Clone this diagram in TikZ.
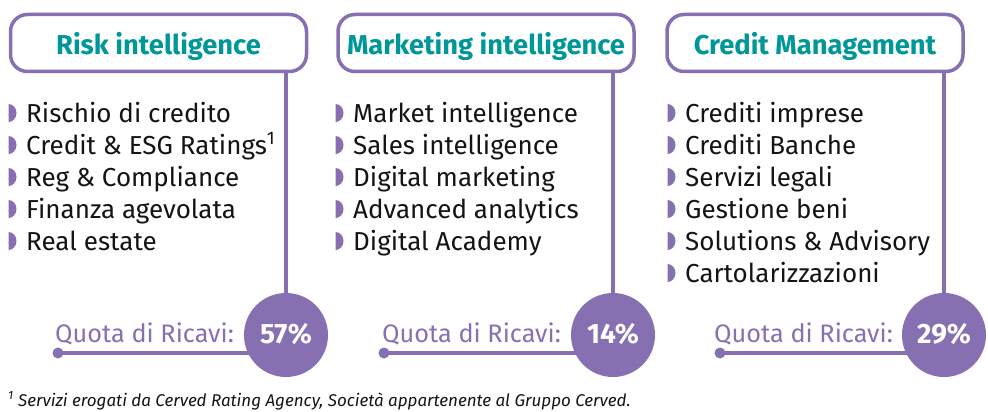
\documentclass[tikz,border=0pt]{standalone}
\usepackage{fontspec}
\setmainfont{Fira Sans}
\usetikzlibrary{positioning,backgrounds}
\definecolor{cervedpurple}{HTML}{8670B2}
\definecolor{cervedteal}{HTML}{00979A}
\definecolor{cervedtext}{HTML}{141414}

\begin{document}
\begin{tikzpicture}[x=1pt,y=-1pt,
    headbox/.style={draw=cervedpurple,line width=3.5pt,rounded corners=17pt,fill=white,
      minimum width=296pt,minimum height=57pt,text height=24pt,text depth=0pt,
      text=cervedteal,font=\fontsize{27.3}{30}\selectfont\bfseries},
    item/.style={anchor=base west,inner sep=0pt,text=cervedtext,font=\fontsize{26}{30}\selectfont},
    bul/.style={fill=cervedpurple},
    pct/.style={circle,fill=cervedpurple,minimum size=84pt,inner sep=0pt,text height=16pt,text depth=0pt,
      text=white,font=\fontsize{28}{32}\selectfont\bfseries},
    quota/.style={anchor=base east,inner sep=0pt,text=cervedpurple,font=\fontsize{25.3}{30}\selectfont},
    link/.style={draw=cervedpurple,line width=3.5pt},
    dot/.style={circle,fill=cervedpurple,minimum size=11pt,inner sep=0pt}]

    \useasboundingbox (0,0) rectangle (988,412);

    % the three business areas
    \node[headbox] (risk) at (158.5,43) {Risk intelligence};
    \node[headbox] (mkt) at (486,43) {Marketing intelligence};
    \node[headbox] (credit) at (815,43) {Credit Management};

    % revenue share
    \node[pct] (riskpct) at (286,335) {57\%};
    \node[pct] (mktpct) at (613,335) {14\%};
    \node[pct] (creditpct) at (944,335) {29\%};

    \node[dot] (riskdot) at (58,353) {};
    \node[dot] (mktdot) at (384,353) {};
    \node[dot] (creditdot) at (720,353) {};

    \node[quota] (riskquota) at (234,342) {Quota di Ricavi:};
    \node[quota] (mktquota) at (561,342) {Quota di Ricavi:};
    \node[quota] (creditquota) at (893,342) {Quota di Ricavi:};

    \begin{pgfonlayer}{background}
      \foreach \a in {risk,mkt,credit} {
        \draw[link] (\a.south -| \a pct) -- (\a pct.center);
        \draw[link] (\a dot.center) -- (\a dot -| \a pct);
      }
    \end{pgfonlayer}

    % lists
    \foreach \txt [count=\i] in {Rischio di credito,Credit \& ESG Ratings\textsuperscript{1},
        Reg \& Compliance,Finanza agevolata,Real estate} {
      \node[item] (risk-\i) at (26,90+32*\i) {\txt};
      \fill[bul] ([xshift=-17.5pt]risk-\i.base west) -- ++(0,-18)
        arc[start angle=90,end angle=-90,x radius=8pt,y radius=9pt] -- cycle;
    }
    \foreach \txt [count=\i] in {Market intelligence,Sales intelligence,Digital marketing,
        Advanced analytics,Digital Academy} {
      \node[item] (mkt-\i) at (353,90+32*\i) {\txt};
      \fill[bul] ([xshift=-17.5pt]mkt-\i.base west) -- ++(0,-18)
        arc[start angle=90,end angle=-90,x radius=8pt,y radius=9pt] -- cycle;
    }
    \foreach \txt [count=\i] in {Crediti imprese,Crediti Banche,Servizi legali,Gestione beni,
        Solutions \& Advisory,Cartolarizzazioni} {
      \node[item] (credit-\i) at (685,90+32*\i) {\txt};
      \fill[bul] ([xshift=-17.5pt]credit-\i.base west) -- ++(0,-18)
        arc[start angle=90,end angle=-90,x radius=8pt,y radius=9pt] -- cycle;
    }

    \node[anchor=base west,inner sep=0pt,text=cervedtext,font=\fontsize{17}{20}\selectfont\itshape]
      (note) at (8,406) {\textsuperscript{1} Servizi erogati da Cerved Rating Agency, Società appartenente al Gruppo Cerved.};
\end{tikzpicture}
\end{document}
